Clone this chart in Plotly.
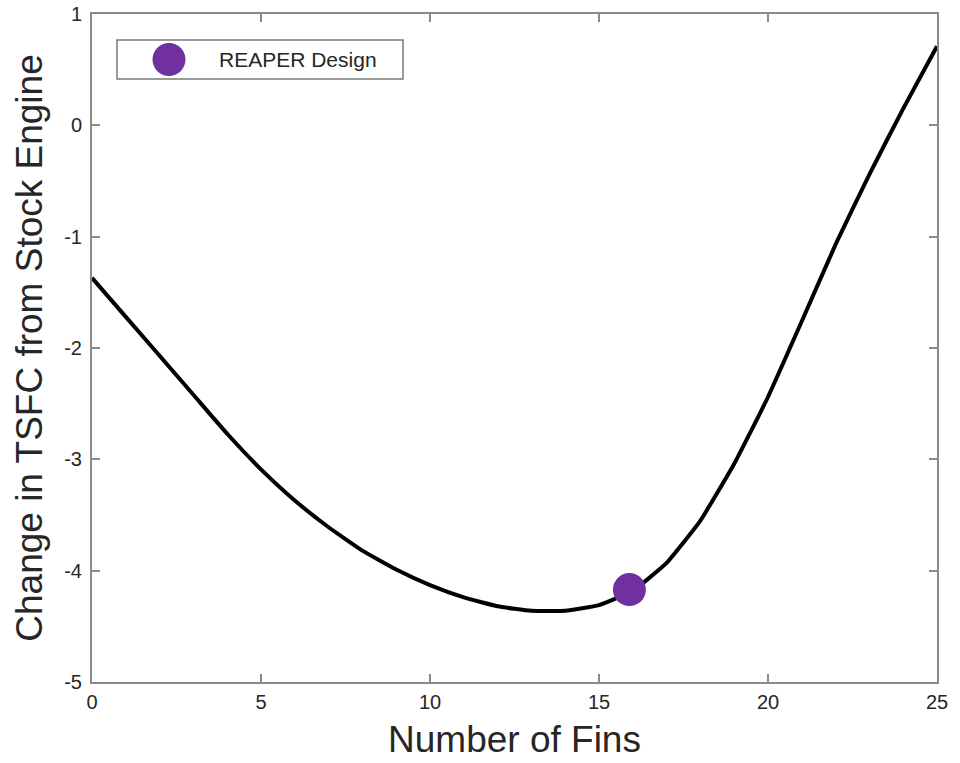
import plotly.graph_objects as go

fins = list(range(0, 26))
tsfc_change = [-1.37, -1.72, -2.07, -2.42, -2.77, -3.09, -3.37, -3.61, -3.82, -3.99,
               -4.13, -4.24, -4.32, -4.36, -4.36, -4.31, -4.18, -3.93, -3.55, -3.04,
               -2.44, -1.76, -1.07, -0.44, 0.15, 0.71]
design_fins = [15.9]
design_tsfc = [-4.17]
legend_label = "REAPER Design"
x_ticks = [0, 5, 10, 15, 20, 25]
x_tick_text = ["0", "5", "10", "15", "20", "25"]
y_ticks = [-5, -4, -3, -2, -1, 0, 1]
y_tick_text = ["-5", "-4", "-3", "-2", "-1", "0", "1"]

axis_color = "#8a8a8a"
tick_font = dict(family="Liberation Sans, Arial, sans-serif", size=20, color="#262626")
title_font = dict(family="Liberation Sans, Arial, sans-serif", size=37, color="#262626")
purple = "#7030A0"

fig = go.Figure()
fig.add_trace(go.Scatter(x=fins, y=tsfc_change, mode="lines",
                         line=dict(color="black", width=4, shape="spline", smoothing=0.4),
                         showlegend=False, hoverinfo="skip"))
fig.add_trace(go.Scatter(x=design_fins, y=design_tsfc, mode="markers",
                         marker=dict(color=purple, size=33), name=legend_label,
                         showlegend=False))

fig.update_layout(
    width=960, height=763,
    margin=dict(l=92, r=23, t=14, b=81),
    paper_bgcolor="white", plot_bgcolor="white",
    xaxis=dict(range=[0, 25], tickvals=x_ticks, ticktext=x_tick_text, showgrid=False,
               zeroline=False, automargin=False,
               showline=True, linecolor=axis_color, linewidth=2, mirror="ticks",
               ticks="inside", ticklen=8, tickcolor=axis_color, tickwidth=1.5,
               tickfont=tick_font, ticklabelstandoff=1,
               title=dict(text="Number of Fins", font=title_font, standoff=14)),
    yaxis=dict(range=[-5, 1], tickvals=y_ticks, ticktext=y_tick_text, showgrid=False,
               zeroline=False, automargin=False,
               showline=True, linecolor=axis_color, linewidth=2, mirror="ticks",
               ticks="inside", ticklen=8, tickcolor=axis_color, tickwidth=1.5,
               tickfont=tick_font, ticklabelstandoff=4,
               title=dict(text="Change in TSFC from Stock Engine", font=title_font, standoff=10)),
    shapes=[
        dict(type="rect", xref="paper", yref="paper", x0=(117-92)/845, x1=(403-92)/845,
             y0=(682-79)/668, y1=(682-40)/668, line=dict(color="#7a7a7a", width=1.5),
             fillcolor="white", layer="above"),
        dict(type="circle", xref="paper", yref="paper", xsizemode="pixel", ysizemode="pixel",
             xanchor=(169-92)/845, yanchor=(682-59.5)/668, x0=-16.5, x1=16.5, y0=-16.5, y1=16.5,
             fillcolor=purple, line=dict(width=0), layer="above"),
    ],
    annotations=[
        dict(text=legend_label, xref="paper", yref="paper", x=(217-92)/845, y=(682-59.5)/668,
             xanchor="left", yanchor="middle", showarrow=False,
             font=dict(family="Liberation Sans, Arial, sans-serif", size=21, color="#262626")),
    ],
)

fig.write_html("out.html")
